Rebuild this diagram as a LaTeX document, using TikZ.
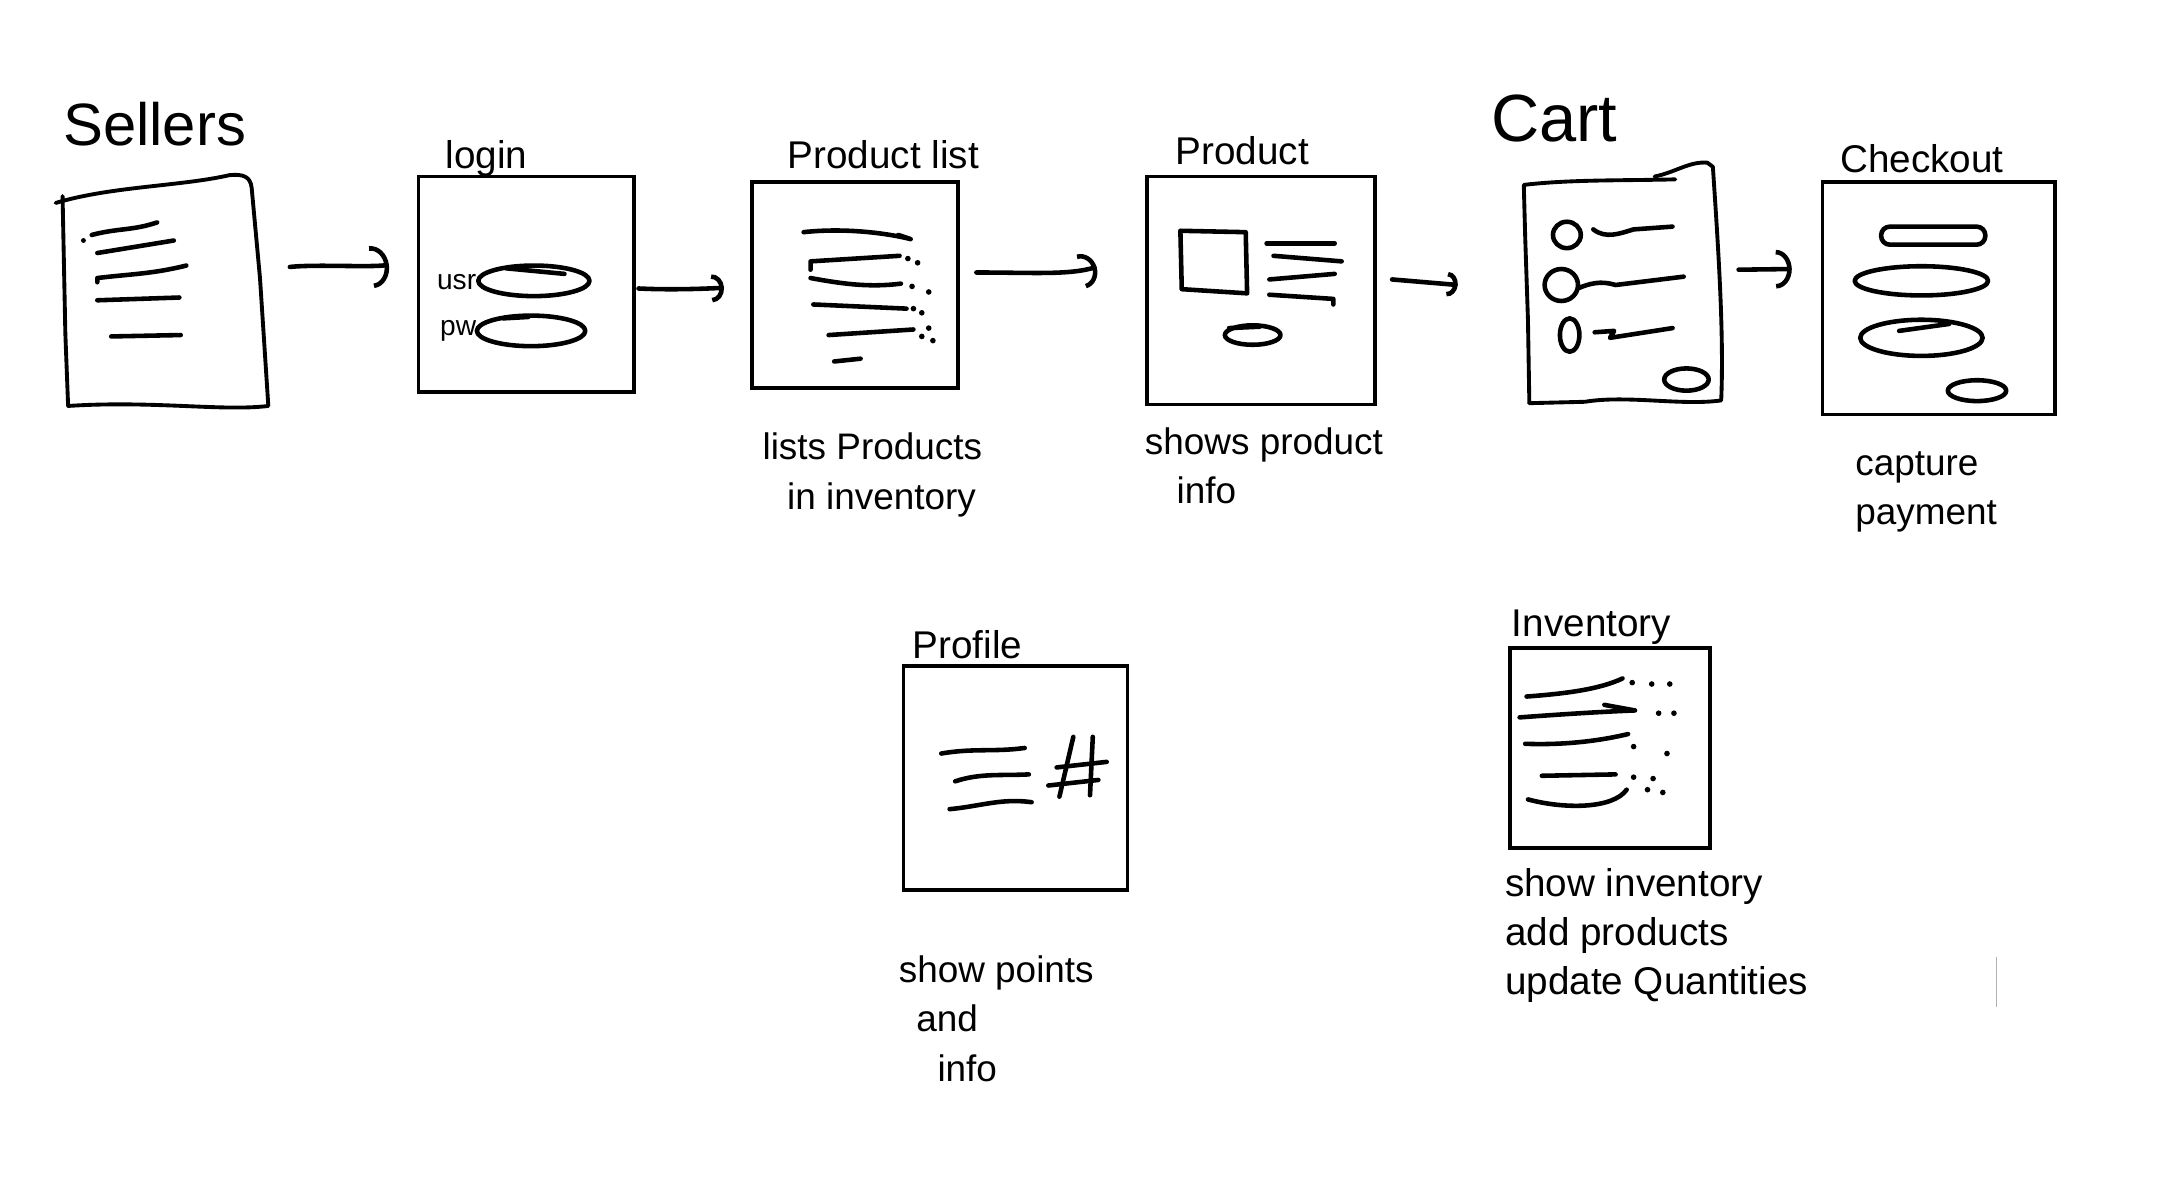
\documentclass[tikz,border=0pt]{standalone}
\usepackage{fontspec}
\setmainfont{Liberation Sans}
\usetikzlibrary{positioning, arrows.meta, fit, calc}

\begin{document}
\begin{tikzpicture}[
    x=0.013903cm, y=-0.013903cm,
    screen/.style={rectangle, draw, line width=1pt, inner sep=0pt},
    pagefit/.style={rectangle, draw=none, inner sep=0pt},
    pageedge/.style={line width=1.1pt, line cap=round, line join=round},
    handline/.style={line width=1.3pt, line cap=round, line join=round},
    heading/.style={font=\fontsize{17}{20}\selectfont, anchor=base west, inner sep=0pt},
    scrtitle/.style={font=\fontsize{11}{13}\selectfont, anchor=base west, inner sep=0pt},
    fieldtag/.style={font=\fontsize{8}{9}\selectfont, anchor=east, inner sep=0pt},
    note/.style={font=\fontsize{10.5}{14}\selectfont, align=left, anchor=north west, inner sep=0pt},
    flow/.style={line width=1.3pt, line cap=round, -{Arc Barb[length=4pt, width=10pt]}},
]
\useasboundingbox (0,0) rectangle (1568,847);

% sellers page (hand drawn sheet)
\node[pagefit, fit={(45,130) (194,294)}] (sellers) {};
\node[heading] (sellers title) at (45,105) {Sellers};
\draw[pageedge] (40,146) .. controls (80,134) and (130,134) .. (165,126)
    .. controls (175,125) and (180,127) .. (181,135) -- (187,200) -- (193,292)
    .. controls (160,296) and (110,288) .. (49,292) -- (47,240) -- (45,141);
\draw[handline] (66,169) .. controls (85,164) and (95,166) .. (113,160);
\draw[handline] (70,182) -- (125,173);
\draw[handline] (70,203) -- (70,200) .. controls (95,197) and (110,197) .. (134,191);
\draw[handline] (70,216) -- (129,214);
\draw[handline] (80,242) -- (130,241);
\fill (60,173) circle [radius=0.7pt];

% login
\node[screen, fit={(301,127) (456,282)}] (login) {};
\node[scrtitle] (login title) at (320,121) {login};
\node[fieldtag] (usr) at (343,203) {usr};
\node[fieldtag] (pw) at (343,238) {pw};
\draw[handline] (384,202) ellipse [x radius=40, y radius=11];
\draw[handline] (364,193) -- (406,197);
\draw[handline] (382,238) ellipse [x radius=39, y radius=11];
\draw[handline] (362,229) -- (380,228);

% product list
\node[screen, fit={(541,131) (689,279)}] (plist) {};
\node[scrtitle] (plist title) at (566,121) {Product list};
\draw[handline] (578,167) .. controls (605,164) and (635,167) .. (655,172) -- (646,169);
\draw[handline] (583,194) -- (583,188) -- (647,184);
\draw[handline] (583,200) .. controls (605,204) and (625,207) .. (648,204);
\draw[handline] (585,219) -- (652,222);
\draw[handline] (596,241) -- (657,237);
\draw[handline] (600,260) -- (619,258);
\foreach \dx/\dy in {653/186, 660/189, 656/206, 668/210, 657/222, 663/225, 668/236, 663/242, 671/245}
    \fill (\dx,\dy) circle [radius=0.8pt];
\node[note] (plist note) at (548,311) {lists Products\\\hspace*{7pt}in inventory};

% product
\node[screen, fit={(825,127) (989,291)}] (product) {};
\node[scrtitle] (product title) at (845,118) {Product};
\draw[handline] (849,166) -- (896,167) -- (897,211) -- (850,208) -- cycle;
\draw[handline] (911,175) -- (960,175);
\draw[handline] (916,184) -- (965,188);
\draw[handline] (913,201) -- (960,197);
\draw[handline] (913,212) -- (959,215) -- (959,219);
\draw[handline] (901,241) ellipse [x radius=20, y radius=7];
\draw[handline] (884,236) -- (906,235);
\node[note] (product note) at (823,307) {shows product\\\hspace*{9pt}info};

% cart (hand drawn sheet)
\node[pagefit, fit={(1097,120) (1240,292)}] (cart) {};
\node[heading, font=\fontsize{19}{22}\selectfont] (cart title) at (1072,102) {Cart};
\draw[pageedge] (1100,290) -- (1099,230) -- (1097,170) -- (1096,133)
    .. controls (1130,129) and (1170,130) .. (1205,129);
\draw[pageedge] (1190,127) .. controls (1205,124) and (1215,116) .. (1228,117) -- (1232,120)
    .. controls (1236,180) and (1240,240) .. (1238,288)
    .. controls (1210,292) and (1170,284) .. (1140,289) -- (1100,290);
\draw[handline] (1127,169) ellipse [x radius=10, y radius=9.5];
\draw[handline] (1123,205) ellipse [x radius=12, y radius=11.5];
\draw[handline] (1129,241) ellipse [x radius=7, y radius=12];
\draw[handline] (1146,165) .. controls (1155,172) and (1165,168) .. (1175,165) -- (1203,163);
\draw[handline] (1136,207) .. controls (1148,202) and (1155,203) .. (1162,205) -- (1211,199);
\draw[handline] (1147,239) -- (1161,238) -- (1158,243) -- (1203,236);
\draw[handline] (1213,273) ellipse [x radius=16, y radius=8];

% checkout
\node[screen, fit={(1311,131) (1478,298)}] (checkout) {};
\node[scrtitle] (checkout title) at (1323,124) {Checkout};
\draw[handline, rounded corners=2.5pt] (1353,163) rectangle (1428,176);
\draw[handline] (1382,202) ellipse [x radius=48, y radius=10.5];
\draw[handline] (1382,243) ellipse [x radius=44, y radius=13];
\draw[handline] (1366,238) -- (1402,233);
\draw[handline] (1422,281) ellipse [x radius=21, y radius=7.5];
\node[note] (checkout note) at (1334,324) {capture\\payment};

% profile
\node[screen, fit={(650,479) (811,640)}] (profile) {};
\node[scrtitle] (profile title) at (656,474) {Profile};
\draw[handline] (677,542) .. controls (700,538) and (715,541) .. (737,538);
\draw[handline] (687,562) .. controls (705,556) and (720,558) .. (740,557);
\draw[handline] (683,582) .. controls (705,580) and (720,574) .. (742,577);
\draw[handline] (772,530) -- (762,573);
\draw[handline] (786,530) -- (784,572);
\draw[handline] (760,552) -- (796,548);
\draw[handline] (754,565) -- (790,561);
\node[note] (profile note) at (646,687) {show points\\\hspace*{5pt}and\\\hspace*{11pt}info};

% inventory
\node[screen, fit={(1086,466) (1230,610)}] (inventory) {};
\node[scrtitle] (inventory title) at (1087,458) {Inventory};
\draw[handline] (1098,501) .. controls (1125,499) and (1150,496) .. (1167,488);
\draw[handline] (1093,516) .. controls (1120,514) and (1150,512) .. (1176,511) -- (1154,507);
\draw[handline] (1097,535) .. controls (1125,536) and (1150,533) .. (1171,528);
\draw[handline] (1109,558) -- (1162,557);
\draw[handline] (1099,575) .. controls (1125,582) and (1160,582) .. (1170,568);
\foreach \dx/\dy in {1174/491, 1188/492, 1201/492, 1193/513, 1204/513, 1175/537, 1199/542, 1175/559, 1189/560, 1185/568, 1196/570}
    \fill (\dx,\dy) circle [radius=0.8pt];
\node[note, font=\fontsize{11}{14}\selectfont] (inventory note) at (1082,624) {show inventory\\add products\\update Quantities};

\draw[gray!60, line width=0.5pt] (1436,688) -- (1436,724);

% flow between screens
\draw[flow, -{Arc Barb[length=5pt, width=12pt]}] ($(sellers.east)+(14,-20)$) .. controls +(20,-2) and +(-15,2) .. ($(login.west)+(-20,-14)$);
\draw[flow, -{Arc Barb[length=3.5pt, width=8pt]}] ($(login.east)+(2,3)$) .. controls +(20,1) and +(-20,1) .. ($(plist.west)+(-19,2)$);
\draw[flow, -{Arc Barb[length=4.5pt, width=10pt]}] ($(plist.east)+(12,-9)$) .. controls +(40,0) and +(-20,6) .. ($(product.west)+(-35,-17)$);
\draw[flow, -{Arc Barb[length=3pt, width=7pt]}] ($(product.east)+(11,-8)$) -- ($(cart.west)+(-48,-1)$);
\draw[flow, -{Arc Barb[length=4.5pt, width=11pt]}] ($(cart.east)+(10,-12)$) -- ($(checkout.west)+(-21,-21)$);
\end{tikzpicture}
\end{document}
